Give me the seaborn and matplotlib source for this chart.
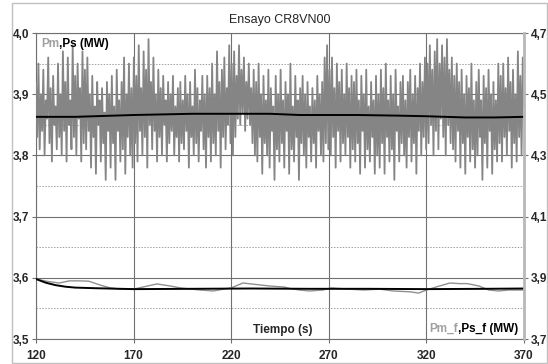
import numpy as np
import pandas as pd
import seaborn as sns
import matplotlib.pyplot as plt
from matplotlib.ticker import FuncFormatter, MultipleLocator
from matplotlib.patches import Rectangle

# Pm (MW), left axis, ~0.625 s spacing from 120 to 370 s
pm = [
    3.92, 3.83, 3.95, 3.81, 3.90, 3.84, 3.94, 3.80, 3.89, 3.86, 3.96, 3.82, 3.91, 3.79, 3.93, 3.85, 3.88, 3.81, 3.95, 3.83,
    3.90, 3.80, 3.97, 3.84, 3.92, 3.79, 3.96, 3.85, 3.89, 3.81, 3.98, 3.83, 3.93, 3.80, 3.95, 3.86, 3.91, 3.79, 3.97, 3.82,
    3.94, 3.81, 3.96, 3.84, 3.90, 3.78, 3.93, 3.83, 3.88, 3.77, 3.92, 3.85, 3.89, 3.79, 3.91, 3.82, 3.87, 3.76, 3.92, 3.84,
    3.90, 3.78, 3.93, 3.82, 3.88, 3.76, 3.94, 3.84, 3.89, 3.79, 3.92, 3.81, 3.96, 3.77, 3.90, 3.83, 3.95, 3.80, 3.91, 3.78,
    3.96, 3.82, 3.93, 3.79, 3.98, 3.84, 3.91, 3.80, 3.97, 3.83, 3.94, 3.78, 3.99, 3.85, 3.92, 3.81, 3.96, 3.84, 3.90, 3.79,
    3.94, 3.83, 3.91, 3.80, 3.93, 3.85, 3.89, 3.79, 3.92, 3.82, 3.90, 3.84, 3.93, 3.80, 3.88, 3.83, 3.91, 3.79, 3.92, 3.82,
    3.89, 3.81, 3.93, 3.84, 3.90, 3.78, 3.92, 3.83, 3.88, 3.80, 3.94, 3.82, 3.91, 3.79, 3.89, 3.84, 3.93, 3.81, 3.90, 3.78,
    3.93, 3.83, 3.91, 3.79, 3.95, 3.82, 3.90, 3.80, 3.97, 3.84, 3.92, 3.78, 3.94, 3.83, 3.96, 3.81, 3.91, 3.85, 3.98, 3.82,
    3.95, 3.80, 3.97, 3.83, 3.93, 3.86, 3.98, 3.85, 3.94, 3.87, 3.96, 3.84, 3.92, 3.86, 3.95, 3.85, 3.91, 3.82, 3.94, 3.80,
    3.92, 3.79, 3.95, 3.83, 3.90, 3.77, 3.93, 3.82, 3.89, 3.80, 3.94, 3.78, 3.91, 3.84, 3.88, 3.76, 3.93, 3.81, 3.90, 3.79,
    3.94, 3.82, 3.89, 3.78, 3.92, 3.84, 3.90, 3.77, 3.95, 3.81, 3.88, 3.79, 3.93, 3.83, 3.89, 3.76, 3.91, 3.82, 3.93, 3.80,
    3.90, 3.78, 3.92, 3.83, 3.88, 3.79, 3.91, 3.82, 3.89, 3.78, 3.93, 3.84, 3.90, 3.80, 3.92, 3.79, 3.96, 3.82, 3.98, 3.81,
    3.94, 3.80, 3.96, 3.83, 3.91, 3.78, 3.95, 3.84, 3.92, 3.79, 3.94, 3.82, 3.90, 3.80, 3.95, 3.83, 3.91, 3.78, 3.93, 3.81,
    3.92, 3.79, 3.94, 3.82, 3.89, 3.77, 3.93, 3.84, 3.90, 3.78, 3.94, 3.81, 3.88, 3.79, 3.92, 3.83, 3.89, 3.77, 3.93, 3.80,
    3.90, 3.78, 3.94, 3.82, 3.91, 3.77, 3.95, 3.83, 3.89, 3.79, 3.93, 3.81, 3.90, 3.76, 3.94, 3.84, 3.88, 3.79, 3.92, 3.82,
    3.93, 3.80, 3.89, 3.78, 3.92, 3.83, 3.94, 3.79, 3.90, 3.82, 3.93, 3.77, 3.91, 3.84, 3.95, 3.80, 3.92, 3.83, 3.96, 3.81,
    3.95, 3.82, 3.98, 3.85, 3.94, 3.80, 3.97, 3.84, 3.99, 3.81, 3.95, 3.86, 3.98, 3.83, 3.96, 3.80, 3.99, 3.85, 3.94, 3.82,
    3.96, 3.81, 3.93, 3.79, 3.95, 3.84, 3.92, 3.78, 3.94, 3.82, 3.90, 3.77, 3.93, 3.83, 3.91, 3.79, 3.95, 3.81, 3.89, 3.78,
    3.92, 3.80, 3.94, 3.83, 3.89, 3.76, 3.93, 3.82, 3.91, 3.78, 3.94, 3.84, 3.90, 3.77, 3.92, 3.81, 3.89, 3.79, 3.95, 3.82,
    3.93, 3.79, 3.95, 3.83, 3.91, 3.80, 3.96, 3.84, 3.92, 3.78, 3.94, 3.82, 3.90, 3.79, 3.97, 3.83, 3.93, 3.80, 3.96, 3.88,
]

# Ps (MW), left axis
ps_t = [120, 140, 150, 170, 185, 200, 240, 255, 285, 305, 320, 340, 355, 370]
ps = [3.863, 3.863, 3.864, 3.866, 3.867, 3.868, 3.868, 3.866, 3.866, 3.865, 3.864, 3.862, 3.862, 3.863]

# Pm_f (MW), right axis
pmf_t = [120, 126, 132, 137, 142, 147, 153, 158, 163, 170, 177, 182, 189, 194, 204, 211, 216, 220,
         226, 230, 240, 247, 250, 255, 260, 267, 271, 280, 288, 296, 303, 312, 316, 320, 325, 332,
         337, 341, 347, 352, 357, 362, 370]
pmf = [3.896, 3.888, 3.883, 3.890, 3.890, 3.889, 3.876, 3.867, 3.863, 3.863, 3.873, 3.880, 3.873,
       3.867, 3.860, 3.857, 3.863, 3.867, 3.883, 3.880, 3.873, 3.870, 3.865, 3.860, 3.857, 3.860,
       3.867, 3.863, 3.860, 3.863, 3.857, 3.854, 3.850, 3.860, 3.870, 3.883, 3.881, 3.881, 3.873,
       3.860, 3.857, 3.860, 3.860]

# Ps_f (MW), right axis
psf_t = [120, 125, 130, 135, 140, 150, 170, 200, 230, 260, 290, 320, 350, 370]
psf = [3.896, 3.884, 3.876, 3.871, 3.868, 3.866, 3.863, 3.864, 3.865, 3.864, 3.864, 3.863, 3.864, 3.865]

x_ticks = [120, 170, 220, 270, 320, 370]
right_ticks = [3.7, 3.9, 4.1, 4.3, 4.5, 4.7]

sns.set_style("white")
plt.rcParams["font.family"] = ["Liberation Sans", "DejaVu Sans"]

fig = plt.figure(figsize=(5.48, 3.64), dpi=100)
ax = fig.add_axes([36 / 548, 25 / 364, 488 / 548, 306 / 364])

# outer chart border
fig.patches.append(Rectangle((12 / 548, 1 / 364), 535 / 548, 360 / 364, transform=fig.transFigure,
                             fill=False, edgecolor="#c0c0c0", linewidth=1))

pm_df = pd.DataFrame({"t": np.linspace(120, 370, len(pm)), "v": pm})
sns.lineplot(data=pm_df, x="t", y="v", ax=ax, color="#858585", linewidth=1.3, zorder=3)
sns.lineplot(x=ps_t, y=ps, ax=ax, color="black", linewidth=1.4, zorder=4)

ax.set_xlim(120, 370)
ax.set_ylim(3.5, 4.0)
ax.set_xticks(x_ticks)
ax.yaxis.set_major_locator(MultipleLocator(0.1))
ax.yaxis.set_minor_locator(MultipleLocator(0.05))
fmt = FuncFormatter(lambda v, p: f"{v:.1f}".replace(".", ","))
ax.yaxis.set_major_formatter(fmt)
ax.set_xlabel("")
ax.set_ylabel("")
ax.grid(True, which="major", color="#707070", linewidth=0.8, zorder=0)
ax.grid(True, which="minor", axis="y", color="#a0a0a0", linewidth=0.7, linestyle=(0, (1.5, 1.5)), zorder=0)
ax.set_axisbelow(True)
for s in ["left", "bottom", "top"]:
    ax.spines[s].set_color("#707070")
    ax.spines[s].set_linewidth(0.8)
ax.spines["right"].set_visible(False)
ax.tick_params(axis="both", which="major", length=3, width=0.8, color="#707070",
               labelsize=8.5, pad=2, direction="out", left=True, bottom=True)
ax.tick_params(axis="y", which="minor", length=0)
for lbl in ax.get_xticklabels() + ax.get_yticklabels():
    lbl.set_fontweight("bold")
ax.tick_params(axis="x", pad=5)

ax2 = ax.twinx()
sns.lineplot(x=pmf_t, y=pmf, ax=ax2, color="#909090", linewidth=1.0)
sns.lineplot(x=psf_t, y=psf, ax=ax2, color="black", linewidth=1.4)
ax2.set_ylim(3.7, 4.7)
ax2.set_yticks(right_ticks)
ax2.yaxis.set_major_formatter(fmt)
ax2.set_ylabel("")
for s in ["left", "bottom", "top"]:
    ax2.spines[s].set_visible(False)
ax2.spines["right"].set_color("#b8b8b8")
ax2.spines["right"].set_linewidth(2)
ax2.tick_params(axis="y", length=3, width=0.8, color="#707070", labelsize=8.5, pad=2, right=True)
for lbl in ax2.get_yticklabels():
    lbl.set_fontweight("bold")

fig.text(0.511, 0.945, "Ensayo CR8VN00", ha="center", va="center", fontsize=9)

# axis titles placed inside the plot area
ax.text(0.506, 0.03, "Tiempo (s)", transform=ax.transAxes, ha="center", va="center",
        fontsize=8.5, fontweight="bold", zorder=6)
t1 = ax.text(0.01, 0.965, "Pm", transform=ax.transAxes, ha="left", va="center",
             fontsize=8.5, color="#a0a0a0", fontweight="bold", zorder=6)
fig.canvas.draw()
ax.annotate(",Ps (MW)", xycoords=t1, xy=(1, 0.5), va="center", ha="left",
            fontsize=8.5, fontweight="bold", color="black", zorder=6)
t2 = ax.text(0.988, 0.033, ",Ps_f (MW)", transform=ax.transAxes, ha="right", va="center",
             fontsize=8.5, fontweight="bold", color="black", zorder=6)
ax.annotate("Pm_f", xycoords=t2, xy=(0, 0.5), va="center", ha="right",
            fontsize=8.5, fontweight="bold", color="#a0a0a0", zorder=6)

fig.savefig("out.png", dpi=100)
